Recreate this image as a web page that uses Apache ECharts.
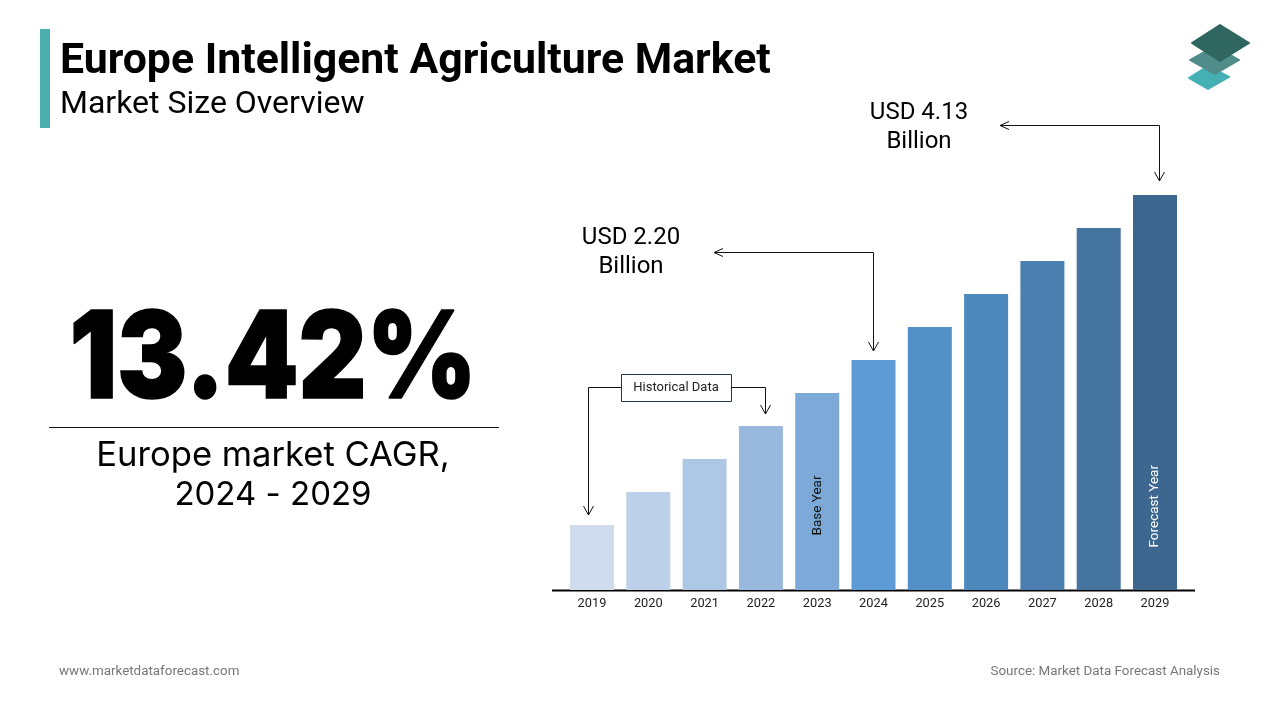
<!DOCTYPE html>
<html>
<head>
<meta charset="utf-8">
<title>Europe Intelligent Agriculture Market</title>
<style>
html, body { margin: 0; padding: 0; background: #fff; }
#chart { width: 1280px; height: 720px; }
</style>
<script src="https://cdn.jsdelivr.net/npm/echarts@6/dist/echarts.min.js"></script>
</head>
<body>
<div id="chart"></div>
<script>
// bars are schematic in the source, so these are relative heights and not USD
var years = ['2019', '2020', '2021', '2022', '2023', '2024', '2025', '2026', '2027', '2028', '2029'];
var barHeights = [0.65, 0.98, 1.31, 1.64, 1.97, 2.30, 2.63, 2.96, 3.29, 3.62, 3.95];
var barColors = ['#D0DCEE', '#BDD0E9', '#AEC7E4', '#98B8DE', '#7DA9D9', '#5C9BD6', '#5390C8', '#4E89BE', '#4A7FAF', '#44749F', '#3D678E'];
var barNotes = { '2023': 'Base Year', '2029': 'Forecast Year' };

var FONT = 'Roboto';
var WIDE_FONT = 'Inter';
var INK = '#000';
var chart = echarts.init(document.getElementById('chart'));

function text(x, y, str, size, extra) {
	var style = { x: x, y: y, text: str, fontFamily: FONT, fontSize: size, fill: INK, textAlign: 'center', textVerticalAlign: 'middle' };
	for (var k in extra) { style[k] = extra[k]; }
	return { type: 'text', silent: true, style: style };
}

function line(points, color, width) {
	return {
		type: 'polyline', silent: true,
		shape: { points: points },
		style: { stroke: color, lineWidth: width, fill: null }
	};
}

function diamond(points, color) {
	return {
		type: 'polygon', silent: true,
		shape: { points: points },
		style: { fill: color, stroke: color, lineWidth: 2, lineJoin: 'round' }
	};
}

// elbow connector with an open arrow head at the last point
function arrow(points) {
	var n = points.length, end = points[n - 1], prev = points[n - 2];
	var head;
	if (end[0] === prev[0]) {
		head = [[end[0] - 5, end[1] - 9], end, [end[0] + 5, end[1] - 9]];
	} else {
		head = [[end[0] + 9, end[1] - 4], end, [end[0] + 9, end[1] + 4]];
	}
	return [line(points, '#111', 1), line(head, '#111', 1)];
}

// headline figure, squeezed a little so the height and width both fit
var headline = text(0, 0, '13.42%', 121, { fontFamily: WIDE_FONT, fontWeight: 900, stroke: '#000', lineWidth: 1.5 });
headline.x = 273;
headline.y = 361.5;
headline.scaleX = 0.87;

var graphics = [
	{ type: 'rect', silent: true, shape: { x: 40, y: 29, width: 10, height: 99 }, style: { fill: '#4BAFB0' } },
	text(60, 62, 'Europe Intelligent Agriculture Market', 42.8, { textAlign: 'left', fontWeight: 'bold' }),
	text(60, 105, 'Market Size Overview', 32, { textAlign: 'left' }),

	diamond([[1208, 66], [1229, 77], [1208, 89], [1189, 78]], '#45B0B3'),
	diamond([[1215, 46], [1239, 60], [1215, 74], [1190, 60]], '#4F8C8A'),
	diamond([[1220, 25], [1249, 43], [1220, 61], [1192, 43]], '#2F6660'),

	headline,
	{ type: 'line', silent: true, shape: { x1: 49, y1: 427.5, x2: 499, y2: 427.5 }, style: { stroke: '#111', lineWidth: 1 } },
	text(273, 456, 'Europe market CAGR,', 34.6, { fontFamily: WIDE_FONT }),
	text(273, 495, '2024 - 2029', 33, { fontFamily: WIDE_FONT }),

	text(919, 113, 'USD 4.13', 24),
	text(919, 142, 'Billion', 24),
	text(631, 238, 'USD 2.20', 24),
	text(631, 267, 'Billion', 24),

	{ type: 'rect', silent: true, shape: { x: 621.5, y: 374.5, width: 110, height: 27 }, style: { fill: '#fff', stroke: '#1F3A4D', lineWidth: 1 } },
	text(676, 388, 'Historical Data', 13, { fill: '#222' }),

	{ type: 'line', silent: true, shape: { x1: 552, y1: 590.5, x2: 1195, y2: 590.5 }, style: { stroke: '#000', lineWidth: 2 } },

	text(59, 672, 'www.marketdataforecast.com', 13.4, { textAlign: 'left', fill: '#777' }),
	text(1220, 672, 'Source: Market Data Forecast Analysis', 13.4, { textAlign: 'right', fill: '#777' })
];

graphics = graphics
	.concat(arrow([[621, 387.5], [588.5, 387.5], [588.5, 515]]))
	.concat(arrow([[731, 387.5], [765.5, 387.5], [765.5, 414]]))
	.concat(arrow([[873.5, 252.5], [714, 252.5]]))
	.concat(arrow([[873.5, 252.5], [873.5, 351]]))
	.concat(arrow([[1159.5, 125.5], [1000, 125.5]]))
	.concat(arrow([[1159.5, 125.5], [1159.5, 181]]));

var seriesData = barHeights.map(function (h, i) {
	var note = barNotes[years[i]];
	var item = { value: h, itemStyle: { color: barColors[i] } };
	if (note) {
		item.label = {
			show: true,
			formatter: note,
			position: 'insideBottom',
			rotate: 90,
			align: 'left',
			verticalAlign: 'middle',
			distance: note === 'Base Year' ? 51.5 : 39.5,
			offset: [3, 0],
			fontFamily: FONT,
			fontSize: 13.5,
			color: note === 'Base Year' ? '#111' : '#fff'
		};
	}
	return item;
});

chart.setOption({
	animation: false,
	backgroundColor: '#fff',
	grid: { left: 563.85, right: 96.85, top: 190, bottom: 130 },
	xAxis: {
		type: 'category',
		data: years,
		axisLine: { show: false },
		axisTick: { show: false },
		axisLabel: { margin: 7, fontFamily: FONT, fontSize: 12.8, color: '#222', interval: 0 }
	},
	yAxis: { type: 'value', min: 0, max: 4, show: false, splitLine: { show: false } },
	series: [{
		type: 'bar',
		data: seriesData,
		barWidth: 44,
		silent: true
	}],
	graphic: graphics
});
</script>
</body>
</html>
